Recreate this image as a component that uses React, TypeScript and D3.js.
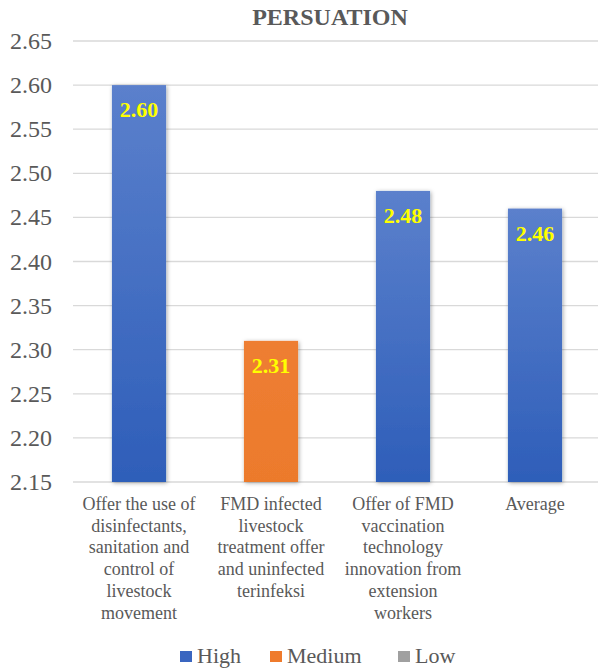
import React from "react";
import * as d3 from "d3";

const categories = [
  ["Offer the use of", "disinfectants,", "sanitation and", "control of", "livestock", "movement"],
  ["FMD infected", "livestock", "treatment offer", "and uninfected", "terinfeksi"],
  ["Offer of FMD", "vaccination", "technology", "innovation from", "extension", "workers"],
  ["Average"],
];
const values = [2.6, 2.31, 2.48, 2.46];
const levels = ["High", "Medium", "High", "High"];
const yTicks = [2.15, 2.2, 2.25, 2.3, 2.35, 2.4, 2.45, 2.5, 2.55, 2.6, 2.65];
const legendItems = ["High", "Medium", "Low"];

const W = 598;
const H = 669;
const font = "Liberation Serif";
const textColor = "#595959";

export default function App() {
  const x = d3.scaleBand<number>().domain(d3.range(values.length)).range([73, 601]).paddingInner(0.59).paddingOuter(0.295);
  const y = d3.scaleLinear().domain([2.15, 2.65]).range([482, 41]);

  const fillFor = (lvl: string) => (lvl === "High" ? "url(#gradHigh)" : lvl === "Medium" ? "url(#gradMed)" : "url(#gradLow)");

  return (
    <svg width={W} height={H} style={{ position: "absolute", left: 0, top: 0 }}>
      <defs>
        <linearGradient id="gradHigh" x1="0" y1="0" x2="0" y2="1">
          <stop offset="0" stopColor="#5b80cc" />
          <stop offset="1" stopColor="#2e5eb9" />
        </linearGradient>
        <linearGradient id="gradMed" x1="0" y1="0" x2="0" y2="1">
          <stop offset="0" stopColor="#ee7e32" />
          <stop offset="1" stopColor="#ec7a2c" />
        </linearGradient>
        <linearGradient id="gradLow" x1="0" y1="0" x2="0" y2="1">
          <stop offset="0" stopColor="#b0b0b0" />
          <stop offset="1" stopColor="#8e8e8e" />
        </linearGradient>
        <filter id="shadow" x="-30%" y="-10%" width="160%" height="120%">
          <feDropShadow dx="1" dy="1" stdDeviation="2" floodColor="#000" floodOpacity="0.35" />
        </filter>
      </defs>
      <rect width={W} height={H} fill="#fff" />
      <text x={330} y={25} textAnchor="middle" fontFamily={font} fontWeight="bold" fontSize={24} fill={textColor}>
        PERSUATION
      </text>
      {yTicks.map((t) => (
        <g key={t}>
          <line x1={73} x2={598} y1={y(t)} y2={y(t)} stroke="#d9d9d9" strokeWidth={1.3} />
          <text x={52} y={y(t) + 8} textAnchor="end" fontFamily={font} fontSize={24} fill={textColor}>
            {t.toFixed(2)}
          </text>
        </g>
      ))}
      {values.map((v, i) => {
        const bx = x(i)!;
        const bw = x.bandwidth();
        return (
          <g key={i}>
            <rect x={bx} y={y(v)} width={bw} height={y(2.15) - y(v)} fill={fillFor(levels[i])} filter="url(#shadow)" />
            <text x={bx + bw / 2} y={y(v) + 32} textAnchor="middle" fontFamily={font} fontWeight="bold" fontSize={22} fill="#ffff00">
              {v.toFixed(2)}
            </text>
          </g>
        );
      })}
      {categories.map((lines, i) => {
        const cx = x(i)! + x.bandwidth() / 2;
        return (
          <text key={i} textAnchor="middle" fontFamily={font} fontSize={18} fill={textColor}>
            {lines.map((l, j) => (
              <tspan key={j} x={cx} y={510 + j * 21.7}>
                {l}
              </tspan>
            ))}
          </text>
        );
      })}
      {(() => {
        const colors = ["#3a66c0", "#ef7b2c", "#a0a0a0"];
        const starts = [180, 270, 398];
        return legendItems.map((name, i) => (
          <g key={name}>
            <rect x={starts[i]} y={651} width={12} height={11} fill={colors[i]} />
            <text x={starts[i] + 17} y={663} fontFamily={font} fontSize={22} fill={textColor}>
              {name}
            </text>
          </g>
        ));
      })()}
    </svg>
  );
}
